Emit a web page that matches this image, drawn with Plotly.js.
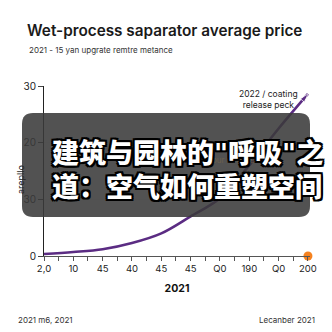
<!DOCTYPE html>
<html><head><meta charset="utf-8">
<script src="https://cdn.plot.ly/plotly-3.0.1.min.js"></script>
<style>html,body{margin:0;padding:0;background:#fff}#c{width:332px;height:332px}</style>
</head><body><div id="c"></div>
<script>
const xIndex = [0,1,2,3,4,5,6,7,8,9];
const xLabels = ["2,0","10","45","40","45","45","Q0","190","Q0","200"];
const priceValues = [0.35, 0.7, 1.2, 2.3, 4.0, 7.0, 10.2, 16.0, 22.5, 28.6];
const markerX = [9];
const markerY = [0];
const yTickVals = [0, 10, 20, 30];
const yTickText = ["0", "30", "20", "30"];

const W = 332, H = 332;
const mL = 44, mR = 22, mT = 86, mB = 76;
const pw = W - mL - mR, ph = H - mT - mB;
const px = v => (v - mL) / pw;
const py = v => (H - mB - v) / ph;

const bx0 = px(22), bx1 = px(310), by0 = py(217), by1 = py(113);
const rx = 11 / pw, ry = 11 / ph;
const boxPath = `M ${bx0+rx} ${by1} L ${bx1-rx} ${by1} Q ${bx1} ${by1} ${bx1} ${by1-ry} L ${bx1} ${by0+ry} Q ${bx1} ${by0} ${bx1-rx} ${by0} L ${bx0+rx} ${by0} Q ${bx0} ${by0} ${bx0} ${by0+ry} L ${bx0} ${by1-ry} Q ${bx0} ${by1} ${bx0+rx} ${by1} Z`;

const stroke = "-2px -2px 0 #000, 2px -2px 0 #000, -2px 2px 0 #000, 2px 2px 0 #000, 0 2px 0 #000, 0 -2px 0 #000, 2px 0 0 #000, -2px 0 0 #000";
const F = "Inter, 'Noto Sans', sans-serif";
const CJK = "'DejaVu Sans', 'Noto Sans CJK SC'";

const traces = [
  {
    x: xIndex, y: priceValues, type: "scatter", mode: "lines+markers",
    line: {color: "#5b2c83", width: 2.6, shape: "spline", smoothing: 1},
    marker: {
      symbol: xIndex.map((v,i) => i === xIndex.length-1 ? "arrow" : "circle"),
      size: xIndex.map((v,i) => i === xIndex.length-1 ? 9 : 0),
      angleref: "previous", color: "#5b2c83"
    },
    cliponaxis: false, hoverinfo: "skip"
  },
  {
    x: markerX, y: markerY, type: "scatter", mode: "markers",
    marker: {color: "#f5821f", size: 9}, cliponaxis: false, hoverinfo: "skip"
  }
];

const layout = {
  width: W, height: H, showlegend: false,
  margin: {l: mL, r: mR, t: mT, b: mB, pad: 0},
  paper_bgcolor: "#fff", plot_bgcolor: "#fff",
  font: {family: F, color: "#222"},
  title: {
    text: "Wet-process saparator average price",
    font: {family: F, size: 15.3, color: "#1a1a1a", weight: 600},
    xref: "container", yref: "container", x: 27/W, xanchor: "left",
    y: 1 - 31/H, yanchor: "middle"
  },
  xaxis: {
    range: [0, 9.07], tickmode: "array", tickvals: xIndex, ticktext: xLabels,
    showline: true, linecolor: "#555", linewidth: 1, showgrid: false, zeroline: false,
    ticks: "outside", ticklen: 4, tickcolor: "#555",
    minor: {dtick: 0.5, tick0: 0, ticks: "outside", ticklen: 4, tickcolor: "#555", showgrid: false},
    tickfont: {size: 9.5, color: "#222"},
    title: {text: "2021", font: {size: 10.5, color: "#111", weight: 700}, standoff: 11}
  },
  yaxis: {
    range: [0, 30], tickmode: "array", tickvals: yTickVals, ticktext: yTickText,
    showline: true, linecolor: "#222", linewidth: 1, showgrid: true, gridcolor: "#f0f0f0",
    zeroline: false, ticks: "outside", ticklen: 5, tickcolor: "#444",
    tickfont: {size: 10, color: "#222"}
  },
  shapes: [
    {type: "path", xref: "paper", yref: "paper", path: boxPath,
     fillcolor: "rgba(58,58,58,0.88)", line: {width: 0}, layer: "above"}
  ],
  annotations: [
    {xref: "paper", yref: "paper", x: px(20), y: py(180), xanchor: "center", yanchor: "middle",
     text: "arepllo", textangle: -90, showarrow: false, font: {size: 9, color: "#222"}},
    {xref: "paper", yref: "paper", x: px(27), y: py(50), xanchor: "left", yanchor: "middle",
     text: "2021 - 15 yan upgrate remtre metance", showarrow: false, font: {size: 8, color: "#333"}},
    {xref: "x", yref: "y", x: 7.64, y: 27.7, text: "2022 / coating<br>release peck",
     showarrow: false, font: {size: 8.5, color: "#222"}, align: "center"},
    {xref: "x", yref: "y", x: 6.45, y: 17, text: "our release", showarrow: false,
     font: {size: 8, color: "rgba(150,120,70,0.4)"}},
    {xref: "paper", yref: "paper", x: px(50), y: py(153), xanchor: "left", yanchor: "middle",
     text: "建筑与园林的\"呼吸\"之", showarrow: false,
     font: {family: CJK, size: 27, color: "#fff", weight: 900, shadow: stroke}},
    {xref: "paper", yref: "paper", x: px(50), y: py(187), xanchor: "left", yanchor: "middle",
     text: "道：空气如何重塑空间", showarrow: false,
     font: {family: CJK, size: 27, color: "#fff", weight: 900, shadow: stroke}},
    {xref: "paper", yref: "paper", x: px(16), y: py(320), xanchor: "left", yanchor: "middle",
     text: "2021 m6, 2021", showarrow: false, font: {size: 8, color: "#333"}},
    {xref: "paper", yref: "paper", x: px(317), y: py(320), xanchor: "right", yanchor: "middle",
     text: "Lecanber 2021", showarrow: false, font: {size: 8, color: "#333"}}
  ]
};

Plotly.newPlot("c", traces, layout, {staticPlot: true, displayModeBar: false});
</script></body></html>
